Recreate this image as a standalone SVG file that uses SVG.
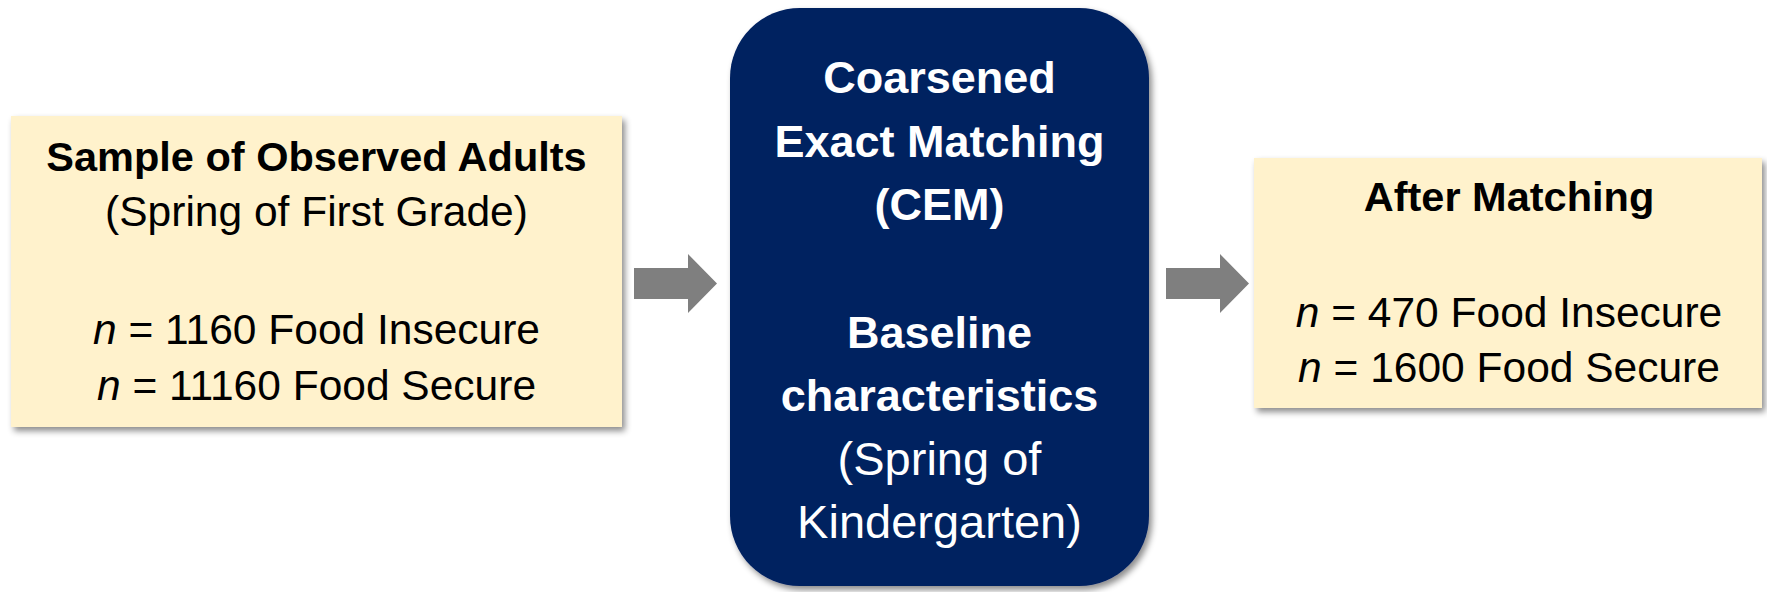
<svg xmlns="http://www.w3.org/2000/svg" width="1767" height="592" viewBox="0 0 1767 592">
  <defs>
    <filter id="shadow" x="-10%" y="-10%" width="125%" height="125%">
      <feDropShadow dx="3" dy="4" stdDeviation="3" flood-color="#000000" flood-opacity="0.45"/>
    </filter>
  </defs>
  <style>
    .note { fill: #FFF2CC; filter: url(#shadow); }
    .step { fill: #002060; filter: url(#shadow); }
    .arrow { fill: #7F7F7F; }
    text { font-family: "Liberation Sans", Arial, sans-serif; text-anchor: middle; }
    .dark { fill: #000000; }
    .light { fill: #FFFFFF; }
    .hb { font-weight: bold; font-size: 41.5px; }
    .hr { font-size: 42.5px; }
    .cb { font-weight: bold; font-size: 45px; }
    .cr { font-size: 47px; }
    .it { font-style: italic; }
  </style>

  <rect width="1767" height="592" fill="#FFFFFF"/>

  <!-- input sample -->
  <g id="sample">
    <rect class="note" x="11" y="116" width="611" height="311"/>
    <text class="dark hb" x="316.5" y="171">Sample of Observed Adults</text>
    <text class="dark hr" x="316.5" y="226">(Spring of First Grade)</text>
    <text class="dark hr" x="316.5" y="344"><tspan class="it">n</tspan> = 1160 Food Insecure</text>
    <text class="dark hr" x="316.5" y="400"><tspan class="it">n</tspan> = 11160 Food Secure</text>
  </g>

  <!-- matching step -->
  <g id="cem">
    <rect class="step" x="730" y="8" width="419" height="578" rx="70" ry="70"/>
    <text class="light cb" x="939.5" y="93">Coarsened</text>
    <text class="light cb" x="939.5" y="157">Exact Matching</text>
    <text class="light cb" x="939.5" y="220">(CEM)</text>
    <text class="light cb" x="939.5" y="348">Baseline</text>
    <text class="light cb" x="939.5" y="411">characteristics</text>
    <text class="light cr" x="939.5" y="475">(Spring of</text>
    <text class="light cr" x="939.5" y="538">Kindergarten)</text>
  </g>

  <!-- matched result -->
  <g id="matched">
    <rect class="note" x="1254" y="158" width="508" height="250"/>
    <text class="dark hb" x="1509" y="211">After Matching</text>
    <text class="dark hr" x="1509" y="327"><tspan class="it">n</tspan> = 470 Food Insecure</text>
    <text class="dark hr" x="1509" y="382"><tspan class="it">n</tspan> = 1600 Food Secure</text>
  </g>

  <!-- block arrows between steps -->
  <g id="connectors">
    <polygon class="arrow" points="634,268 688,268 688,254 717,283.5 688,313 688,299 634,299"/>
    <polygon class="arrow" points="1166,268 1220,268 1220,254 1249,283.5 1220,313 1220,299 1166,299"/>
  </g>
</svg>
